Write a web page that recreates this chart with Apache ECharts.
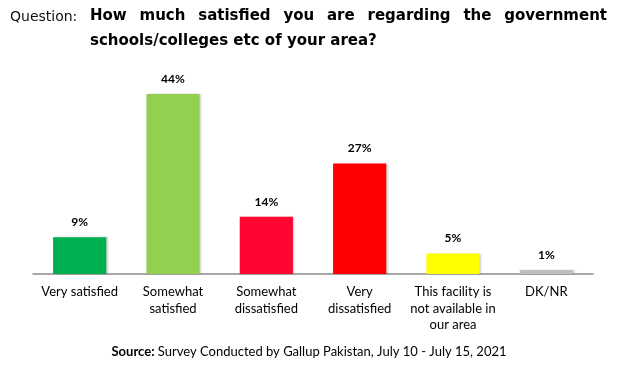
<!DOCTYPE html>
<html><head><meta charset="utf-8">
<script src="https://cdn.jsdelivr.net/npm/echarts@6/dist/echarts.min.js"></script>
<style>html,body{margin:0;padding:0;background:#fff}#c{width:618px;height:365px}</style>
</head><body><div id="c"></div>
<script>
const categories = ['Very satisfied', 'Somewhat\nsatisfied', 'Somewhat\ndissatisfied', 'Very\ndissatisfied', 'This facility is\nnot available in\nour area', 'DK/NR'];
const values = [9, 44, 14, 27, 5, 1];
const colors = ['#00B050', '#92D050', '#FF0532', '#FF0000', '#FFFF00', '#BFBFBF'];
const titleLine1 = 'How much satisfied you are regarding the government';
const titleLine2 = 'schools/colleges etc of your area?';

const chart = echarts.init(document.getElementById('c'));
const titleFont = 'bold 15px "DejaVu Sans"';
const cv = document.createElement('canvas').getContext('2d');
cv.font = titleFont;
const words = titleLine1.split(' ');
const widths = words.map(w => cv.measureText(w).width);
const x0 = 90, x1 = 607;
const gap = (x1 - x0 - widths.reduce((a, b) => a + b, 0)) / (words.length - 1);
const graphics = [];
let cx = x0;
words.forEach((w, i) => {
  graphics.push({type: 'text', left: cx, top: 9, style: {text: w, font: titleFont, fill: '#000'}});
  cx += widths[i] + gap;
});
graphics.push({type: 'text', left: x0, top: 34, style: {text: titleLine2, font: titleFont, fill: '#000'}});
graphics.push({type: 'text', left: 10, top: 10, style: {text: 'Question:', font: '14px "DejaVu Sans"', fill: '#111'}});
graphics.push({type: 'text', left: 'center', top: 345, style: {
  text: '{b|Source:} Survey Conducted by Gallup Pakistan, July 10 - July 15, 2021',
  rich: {b: {fontWeight: 'bold', fontFamily: 'Lato', fontSize: 13, fill: '#000'}},
  fontFamily: 'Lato', fontSize: 13, fill: '#000'}});

chart.setOption({
  animation: false,
  grid: {left: 33, right: 25, top: 94, bottom: 91},
  xAxis: {
    type: 'category', data: categories,
    axisLine: {lineStyle: {color: '#8c8c8c', width: 1.5}},
    axisTick: {show: false},
    axisLabel: {interval: 0, margin: 10, color: '#000', fontFamily: 'Lato', fontSize: 13, lineHeight: 16.5}
  },
  yAxis: {type: 'value', min: 0, max: 44, show: false, splitLine: {show: false}},
  series: [{
    type: 'bar', barCategoryGap: '43%',
    data: values.map((v, i) => ({value: v, itemStyle: {color: colors[i]}})),
    itemStyle: {shadowColor: 'rgba(0,0,0,0.2)', shadowBlur: 2, shadowOffsetX: 1.5, shadowOffsetY: 0},
    label: {show: true, position: 'top', distance: 9, formatter: '{c}%', color: '#000', fontFamily: 'Lato', fontWeight: 'bold', fontSize: 12}
  }],
  graphic: graphics
});
</script></body></html>
